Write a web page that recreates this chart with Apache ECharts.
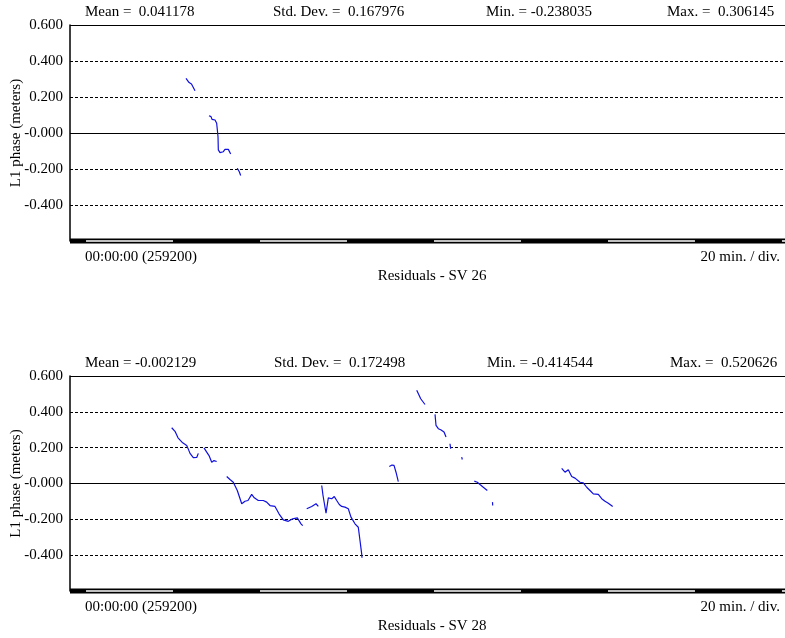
<!DOCTYPE html>
<html>
<head>
<meta charset="utf-8">
<script src="https://cdn.jsdelivr.net/npm/echarts@6/dist/echarts.min.js"></script>
<style>
html,body{margin:0;padding:0;background:#fff;}
#chart{width:785px;height:638px;}
</style>
</head>
<body>
<div id="chart"></div>
<script>
// ---- Data (time in minutes from 00:00:00 (259200), residual in meters) ----
// null marks a gap between tracked arcs
const sv26Time = [22.99, 23.7, 24.25, 24.5, 24.6, 25.06, null,
  28.28, 28.74, 28.97, 29.27, 29.66, 30.04, 30.28, 30.35, 30.42, 30.81, 31.19, 31.57, 31.95, 32.34, 32.72, 33.1, 33.26, null,
  34.78, 35.1, 35.24, 35.56];
const sv26Value = [0.304, 0.280, 0.272, 0.276, 0.261, 0.235, null,
  0.096, 0.091, 0.076, 0.068, 0.072, 0.054, 0.044, -0.021, -0.094, -0.109, -0.098, -0.104, -0.091, -0.080, -0.091, -0.098, -0.117, null,
  -0.196, -0.202, -0.215, -0.236];

const sv28Time = [19.70, 20.46, 21.15, 22.23, 23.15, 23.45, 23.91, 24.67, 25.45, 25.82, null,
  27.13, 27.75, 28.28, 28.90, 29.43, 30.04, null,
  32.35, 33.1, 33.86, 34.78, 35.8, 36.55, 37.24, 38.09, 38.69, 39.61, 40.76, 41.54, 42.3, 43.45, 44.37, 45.36, 46.51, 47.52, 48.58, 49.43, 49.82, null,
  50.74, 51.89, 52.88, 53.41, null,
  54.19, 54.49, 55.18, 55.71, 56.49, 57.09, 57.64, 58.23, 58.79, 59.54, 60.30, 60.92, 61.84, 62.60, 62.99, 63.38, 63.45, null,
  69.73, 70.35, 70.81, 71.27, 71.80, null,
  76.03, 76.95, 77.94, null,
  80.24, 80.47, 81.0, 81.55, 82.31, 82.77, null,
  83.68, 83.84, null,
  86.37, 86.51, null,
  89.27, 89.96, 90.58, 91.34, 92.26, null,
  93.45, 93.5, null,
  109.36, 110.12, 110.88, 111.66, 112.42, 113.57, 114.33, 115.11, 115.87, 116.63, 117.78, 118.56, 119.32, 120.08, 121.09];
const sv28Value = [0.311, 0.291, 0.255, 0.227, 0.212, 0.196, 0.168, 0.144, 0.145, 0.168, null,
  0.199, 0.175, 0.156, 0.119, 0.128, 0.123, null,
  0.039, 0.022, 0.007, -0.039, -0.113, -0.099, -0.095, -0.061, -0.080, -0.095, -0.095, -0.104, -0.123, -0.128, -0.169, -0.203, -0.211, -0.197, -0.192, -0.225, -0.235, null,
  -0.141, -0.128, -0.113, -0.128, null,
  -0.011, -0.067, -0.166, -0.080, -0.085, -0.073, -0.095, -0.117, -0.128, -0.132, -0.141, -0.188, -0.225, -0.244, -0.318, -0.393, -0.4145, null,
  0.095, 0.103, 0.101, 0.063, 0.011, null,
  0.5206, 0.473, 0.441, null,
  0.386, 0.324, 0.306, 0.300, 0.287, 0.259, null,
  0.222, 0.194, null,
  0.147, 0.134, null,
  0.013, 0.007, -0.006, -0.021, -0.039, null,
  -0.104, -0.123, null,
  0.085, 0.063, 0.077, 0.039, 0.030, 0.007, 0.004, -0.021, -0.039, -0.058, -0.061, -0.085, -0.099, -0.110, -0.128];

// time divisions (20 min / div), alternating white / black in the time bar
const whiteDivisions = [[0, 20], [40, 60], [80, 100], [120, 140], [160, 180]];

const yTickValues = [-0.6, -0.4, -0.2, 0, 0.2, 0.4, 0.6];
const yTickLabels = ['', '-0.400', '-0.200', '-0.000', '0.200', '0.400', '0.600'];

const sv26Stats = ['Mean =  0.041178', 'Std. Dev. =  0.167976', 'Min. = -0.238035', 'Max. =  0.306145'];
const sv28Stats = ['Mean = -0.002129', 'Std. Dev. =  0.172498', 'Min. = -0.414544', 'Max. =  0.520626'];
const startLabel = '00:00:00 (259200)';
const scaleLabel = '20 min. / div.';
const panelTitles = ['Residuals - SV 26', 'Residuals - SV 28'];
const yName = 'L1 phase (meters)';

// ---- Chart ----
const X_MIN = -3.68, X_MAX = 160.7;
const FONT = "'Liberation Serif', 'Times New Roman', serif";
const chart = echarts.init(document.getElementById('chart'), null, {renderer: 'canvas'});

function toData(times, vals) {
  return times.map((t, i) => t === null ? [times[i - 1], '-'] : [t, vals[i]]);
}
function yFmt(v) {
  for (let i = 0; i < yTickValues.length; i++) {
    if (Math.abs(v - yTickValues[i]) < 1e-6) return yTickLabels[i];
  }
  return '';
}

const panels = [
  {top: 25, height: 216, time: sv26Time, value: sv26Value, stats: sv26Stats, statX: [85, 273, 486, 667], title: panelTitles[0]},
  {top: 376, height: 215, time: sv28Time, value: sv28Value, stats: sv28Stats, statX: [85, 274, 487, 670], title: panelTitles[1]}
];

const grid = [], xAxis = [], yAxis = [], series = [], titles = [];
panels.forEach((p, k) => {
  grid.push({left: 70, right: 0, top: p.top, height: p.height, containLabel: false, outerBoundsMode: 'none'});
  xAxis.push({
    type: 'value', gridIndex: k, min: X_MIN, max: X_MAX,
    axisLine: {show: false, onZero: false}, axisTick: {show: false}, axisLabel: {show: false}, splitLine: {show: false}
  });
  yAxis.push({
    type: 'value', gridIndex: k, min: -0.6, max: 0.6, interval: 0.2,
    name: yName, nameLocation: 'middle', nameGap: 46, nameRotate: 90, nameMoveOverlap: false,
    nameTextStyle: {fontFamily: FONT, fontSize: 15, color: '#000'},
    axisLine: {show: true, onZero: false, lineStyle: {color: '#000', width: 1.5}},
    axisTick: {show: false},
    axisLabel: {fontFamily: FONT, fontSize: 15, color: '#000', margin: 7, formatter: yFmt, showMinLabel: false, showMaxLabel: true,
      verticalAlign: 'middle', padding: [0, 0, 8, 0]},
    splitLine: {show: true, lineStyle: {color: '#000', width: 1, type: [3, 2]}}
  });
  // residuals
  series.push({
    type: 'line', xAxisIndex: k, yAxisIndex: k, data: toData(p.time, p.value),
    showSymbol: false, symbol: 'none', connectNulls: false, silent: true, animation: false,
    lineStyle: {color: '#1010e0', width: 1.2}, z: 5,
    markLine: {
      silent: true, symbol: 'none', animation: false, label: {show: false},
      lineStyle: {color: '#000', width: 1, type: 'solid'},
      data: [{yAxis: 0}, {yAxis: 0.6}]
    }
  });
  // time bar: black base
  series.push({
    type: 'line', xAxisIndex: k, yAxisIndex: k, clip: false, silent: true, animation: false,
    data: [[X_MIN, -0.6], [X_MAX, -0.6]], showSymbol: false, symbol: 'none',
    lineStyle: {color: '#000', width: 5}, z: 6
  });
  // time bar: white divisions
  const wd = [];
  whiteDivisions.forEach(d => { wd.push([d[0], -0.6]); wd.push([Math.min(d[1], X_MAX), -0.6]); wd.push([d[1], '-']); });
  series.push({
    type: 'line', xAxisIndex: k, yAxisIndex: k, clip: false, silent: true, animation: false,
    data: wd, showSymbol: false, symbol: 'none', connectNulls: false,
    lineStyle: {color: '#fff', width: 1.6, cap: 'butt'}, z: 7
  });
  // stats header
  p.stats.forEach((s, i) => {
    titles.push({text: s, left: p.statX[i], top: p.top - 20, textStyle: {fontFamily: FONT, fontSize: 15, fontWeight: 'normal', color: '#000'}});
  });
  titles.push({text: startLabel, left: 85, top: p.top + p.height + 9, textStyle: {fontFamily: FONT, fontSize: 15, fontWeight: 'normal', color: '#000'}});
  titles.push({text: scaleLabel, right: 5, top: p.top + p.height + 9, textStyle: {fontFamily: FONT, fontSize: 15, fontWeight: 'normal', color: '#000'}});
  titles.push({text: p.title, left: 432, textAlign: 'center', top: p.top + p.height + 28, textStyle: {fontFamily: FONT, fontSize: 15, fontWeight: 'normal', color: '#000'}});
});

chart.setOption({
  animation: false,
  backgroundColor: '#fff',
  title: titles.map(t => Object.assign({padding: 0}, t)),
  grid: grid, xAxis: xAxis, yAxis: yAxis, series: series
});
</script>
</body>
</html>
